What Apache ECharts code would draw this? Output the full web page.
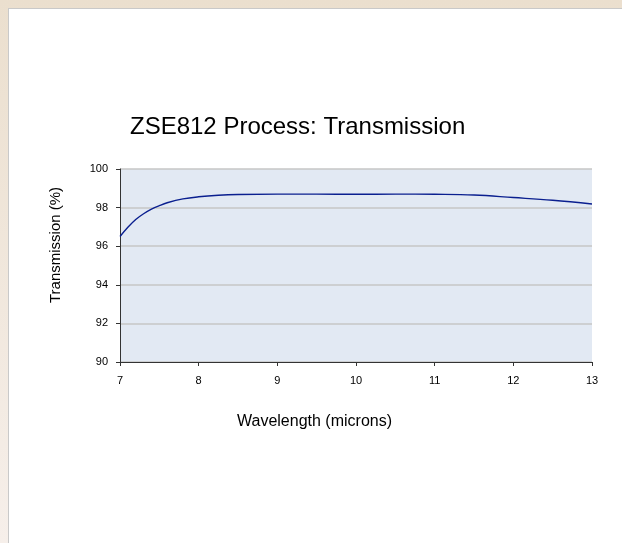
<!DOCTYPE html>
<html>
<head>
<meta charset="utf-8">
<script src="https://cdn.jsdelivr.net/npm/echarts@6/dist/echarts.min.js"></script>
<style>
  html, body { margin: 0; padding: 0; }
  body {
    width: 622px; height: 543px; overflow: hidden;
    background: linear-gradient(#ebdfce, #f6efea);
    position: relative;
  }
  .panel {
    position: absolute; left: 8px; top: 8px; right: 0; bottom: 0;
    background: #fff;
    border-left: 1px solid #c9c9c9;
    border-top: 1px solid #c9c9c9;
  }
  #chart { position: absolute; left: 0; top: 0; width: 622px; height: 543px; }
</style>
</head>
<body>
<div class="panel"></div>
<div id="chart"></div>
<script>
// wavelength (microns) and transmission (%)
var wavelength = [7, 7.1, 7.2, 7.3, 7.4, 7.5, 7.6, 7.8, 8, 8.25, 8.5, 9, 9.5, 10, 10.5, 11, 11.5, 12, 12.5, 13];
var transmission = [96.5, 96.98, 97.38, 97.68, 97.92, 98.1, 98.25, 98.45, 98.56, 98.64, 98.68, 98.7, 98.7, 98.69, 98.7, 98.69, 98.65, 98.52, 98.38, 98.19];
var yTicks = [90, 92, 94, 96, 98, 100];
var xTicks = [7, 8, 9, 10, 11, 12, 13];

var data = wavelength.map(function (w, i) { return [w, transmission[i]]; });

var chart = echarts.init(document.getElementById('chart'));
var font = 'Liberation Sans, Arial, sans-serif';

chart.setOption({
  backgroundColor: 'transparent',
  animation: false,
  title: [
    {
      text: 'ZSE812 Process: Transmission',
      left: 130, top: 115, padding: 0,
      textStyle: { fontFamily: font, fontSize: 24, fontWeight: 'normal', color: '#000' }
    },
    {
      text: 'Wavelength (microns)',
      left: 237, top: 414, padding: 0,
      textStyle: { fontFamily: font, fontSize: 16, fontWeight: 'normal', color: '#000' }
    }
  ],
  graphic: [{
    type: 'text',
    x: 56, y: 245,
    rotation: Math.PI / 2,
    style: {
      text: 'Transmission (%)',
      font: '15px ' + font,
      fill: '#000',
      align: 'center',
      verticalAlign: 'middle'
    }
  }],
  grid: {
    left: 120, right: 30, top: 169, bottom: 181,
    show: true, backgroundColor: '#e2e9f3', borderWidth: 0
  },
  xAxis: {
    type: 'value',
    min: xTicks[0], max: xTicks[xTicks.length - 1], interval: 1,
    axisLine: { lineStyle: { color: '#333', width: 1 } },
    axisTick: { show: true, length: 4, lineStyle: { color: '#333' } },
    axisLabel: { fontFamily: font, fontSize: 11, color: '#000', margin: 13 },
    splitLine: { show: false }
  },
  yAxis: {
    type: 'value',
    min: yTicks[0], max: yTicks[yTicks.length - 1], interval: 2,
    axisLine: { show: true, lineStyle: { color: '#333', width: 1 } },
    axisTick: { show: true, length: 4, lineStyle: { color: '#333' } },
    axisLabel: { fontFamily: font, fontSize: 11, color: '#000', margin: 12 },
    splitLine: { show: true, lineStyle: { color: '#c6c6c6', width: 1.5 } }
  },
  series: [{
    type: 'line',
    data: data,
    smooth: 0.4,
    showSymbol: false,
    lineStyle: { color: '#0a1f8f', width: 1.4 }
  }]
});
</script>
</body>
</html>
